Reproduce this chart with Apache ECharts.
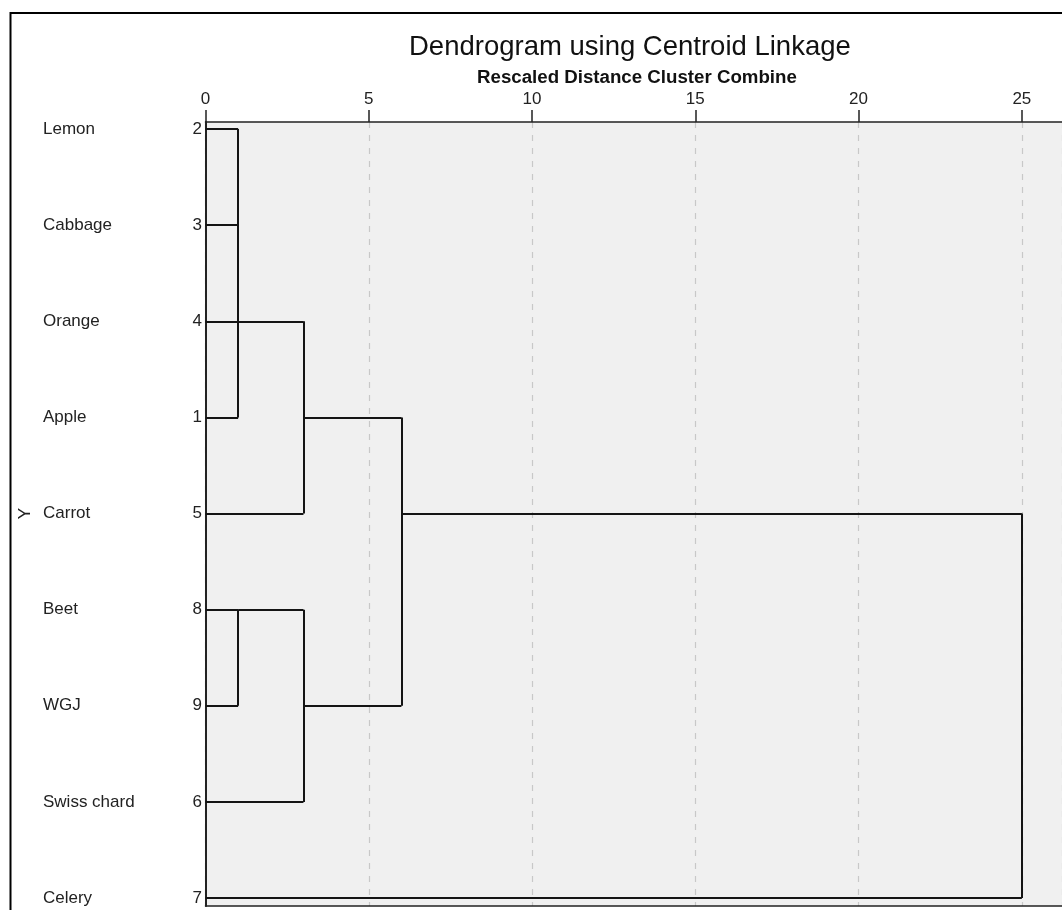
<!DOCTYPE html>
<html>
<head>
<meta charset="utf-8">
<script src="https://cdn.jsdelivr.net/npm/echarts@6/dist/echarts.min.js"></script>
<style>
html,body{margin:0;padding:0;background:#fff;}
#chart{width:1062px;height:910px;}
</style>
</head>
<body>
<div id="chart"></div>
<script>
// ---- data ----
const leafNames = ['Lemon', 'Cabbage', 'Orange', 'Apple', 'Carrot', 'Beet', 'WGJ', 'Swiss chard', 'Celery'];
const leafCaseNums = [2, 3, 4, 1, 5, 8, 9, 6, 7];
const xTicks = [0, 5, 10, 15, 20, 25];
const xMax = 26.23; // visible end of the distance scale at the right edge
// merges in order: rescaled distance, children (L = leaf row, M = earlier merge), row the cluster continues on
const mergeDist = [1, 3, 1, 3, 6, 25];
const mergeChildren = [
  ['L0', 'L1', 'L2', 'L3'],
  ['M0', 'L4'],
  ['L5', 'L6'],
  ['M2', 'L7'],
  ['M1', 'M3'],
  ['M4', 'L8']
];
const mergeOutRow = [2, 3, 5, 6, 4, null];

// ---- build dendrogram segments ----
const segments = [];
function nodeInfo(id) {
  const k = +id.slice(1);
  if (id[0] === 'L') return { level: 0, row: k };
  return { level: mergeDist[k], row: mergeOutRow[k] };
}
mergeChildren.forEach((children, i) => {
  const d = mergeDist[i];
  const rows = [];
  children.forEach(c => {
    const info = nodeInfo(c);
    rows.push(info.row);
    segments.push({ coords: [[info.level, info.row], [d, info.row]] });
  });
  segments.push({ coords: [[d, Math.min(...rows)], [d, Math.max(...rows)]] });
});

const FONT = 'Arial, "Liberation Sans", sans-serif';
const hiddenParts = { axisTick: { show: false }, axisLabel: { show: false }, splitLine: { show: false } };
const chart = echarts.init(document.getElementById('chart'), null, { renderer: 'canvas' });
chart.setOption({
  animation: false,
  backgroundColor: '#ffffff',
  graphic: [{
    type: 'rect', z: -10, silent: true,
    shape: { x: 10.5, y: 13, width: 1200, height: 1000 },
    style: { fill: 'none', stroke: '#000', lineWidth: 2 }
  }],
  title: [
    { text: 'Dendrogram using Centroid Linkage', left: 404, top: 28,
      textStyle: { fontFamily: FONT, fontSize: 27.5, fontWeight: 'normal', color: '#111' } },
    { text: 'Rescaled Distance Cluster Combine', left: 472, top: 63,
      textStyle: { fontFamily: FONT, fontSize: 18.7, fontWeight: 'bold', color: '#111' } }
  ],
  grid: [
    { left: 205.5, top: 122, right: 0, bottom: 4, show: true,
      backgroundColor: '#f0f0f0', borderWidth: 0 },
    { left: 205.5, top: 129, right: 0, bottom: 12 }
  ],
  xAxis: [
    { gridIndex: 0, type: 'value', position: 'top', min: 0, max: xMax, interval: 5,
      axisLine: { show: true, onZero: false, lineStyle: { color: '#222', width: 1.5 } },
      axisTick: { show: true, inside: false, length: 12, lineStyle: { color: '#222', width: 1.5 } },
      axisLabel: { show: true, margin: 14, fontFamily: FONT, fontSize: 17, color: '#222',
        showMaxLabel: false,
        formatter: v => xTicks.indexOf(v) >= 0 ? String(v) : '' },
      splitLine: { show: true, lineStyle: { color: '#c8c8c8', width: 1.2, type: [6, 7] } }
    },
    Object.assign({ gridIndex: 0, type: 'value', position: 'bottom', min: 0, max: xMax,
      axisLine: { show: true, onZero: false, lineStyle: { color: '#222', width: 1.5 } } }, hiddenParts),
    Object.assign({ gridIndex: 1, type: 'value', min: 0, max: xMax,
      axisLine: { show: false, onZero: false } }, hiddenParts)
  ],
  yAxis: [
    Object.assign({ gridIndex: 0, type: 'value', min: 0, max: 1, position: 'left',
      axisLine: { show: true, onZero: false, lineStyle: { color: '#222', width: 2 } } }, hiddenParts),
    { gridIndex: 1, type: 'value', inverse: true, min: 0, max: 8, interval: 1,
      name: 'Y', nameLocation: 'middle', nameRotate: 90, nameGap: 172, nameMoveOverlap: false,
      nameTextStyle: { fontFamily: FONT, fontSize: 17, color: '#222' },
      axisLine: { show: false, onZero: false }, axisTick: { show: false }, splitLine: { show: false },
      axisLabel: {
        margin: 3.5, fontFamily: FONT, fontSize: 17, color: '#222',
        formatter: v => '{n|' + leafNames[v] + '}{d|' + leafCaseNums[v] + '}',
        rich: {
          n: { width: 139, align: 'left', fontFamily: FONT, fontSize: 17, color: '#222' },
          d: { width: 20, align: 'right', fontFamily: FONT, fontSize: 17, color: '#222' }
        }
      }
    }
  ],
  series: [{
    type: 'lines', coordinateSystem: 'cartesian2d', xAxisIndex: 2, yAxisIndex: 1,
    polyline: false, silent: true, z: 5,
    lineStyle: { color: '#141414', width: 2, opacity: 1 },
    data: segments
  }]
});
</script>
</body>
</html>
